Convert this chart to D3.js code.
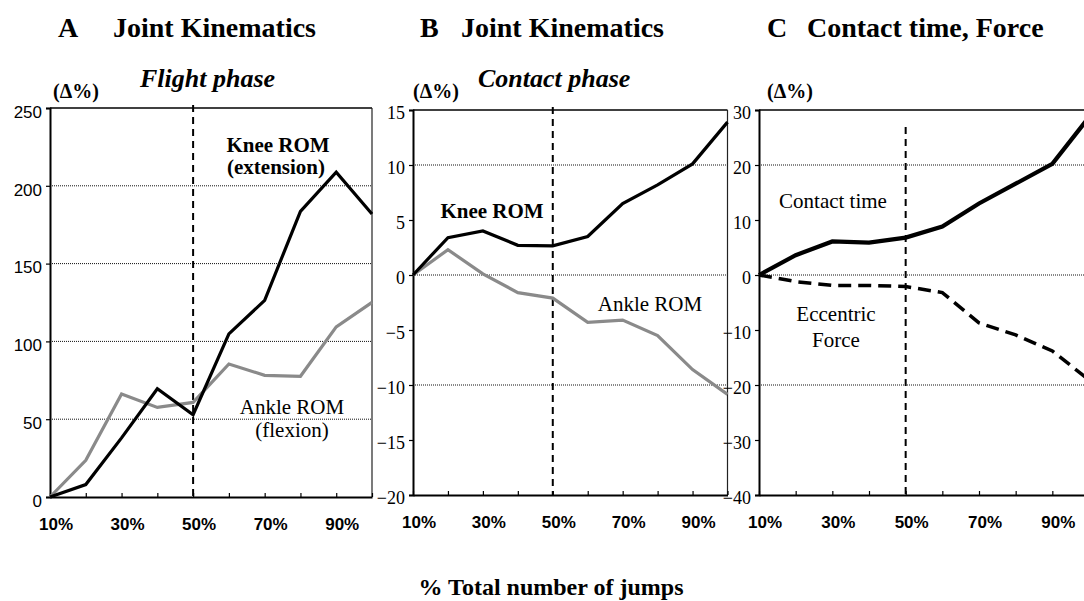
<!DOCTYPE html>
<html>
<head>
<meta charset="utf-8">
<script src="https://cdn.jsdelivr.net/npm/d3@7/dist/d3.min.js"></script>
<style>
  html, body { margin: 0; padding: 0; background: #fff; }
  svg { display: block; }
</style>
</head>
<body>
<svg id="chart" width="1084" height="601"></svg>
<script>
// Share of the total number of jumps (x categories)
const categories = ["10%", "20%", "30%", "40%", "50%", "60%", "70%", "80%", "90%", "100%"];
const xTickLabels = ["10%", "30%", "50%", "70%", "90%"];

// A: flight phase joint kinematics (Δ%)
const flightKnee  = [0, 8, 38, 69.6, 52.9, 104.8, 126.4, 183.6, 208.7, 181.9];
const flightAnkle = [0, 23.6, 66.2, 57.6, 60.8, 85.5, 78.2, 77.6, 109.3, 125.1];
const flightTicks = [0, 50, 100, 150, 200, 250];
const flightGrid  = [50, 100, 150, 200];

// B: contact phase joint kinematics (Δ%)
const contactKnee  = [0, 3.4, 4.0, 2.7, 2.65, 3.5, 6.5, 8.2, 10.1, 13.9];
const contactAnkle = [0, 2.3, 0.1, -1.6, -2.1, -4.3, -4.1, -5.5, -8.6, -10.85];
const contactTicks = [-20, -15, -10, -5, 0, 5, 10, 15];
const contactGrid  = [-10, 0, 10];

// C: contact time and eccentric force (Δ%)
const contactTime    = [0, 3.6, 6.1, 5.9, 6.8, 8.8, 13.0, 16.6, 20.2, 28.7];
const eccentricForce = [0, -1.2, -1.9, -1.9, -2.1, -3.2, -8.7, -10.9, -13.8, -19.1];
const forceTicks = [-40, -30, -20, -10, 0, 10, 20, 30];
const forceGrid  = [-20, 0, 20];

const SERIF = "'Liberation Serif', 'Times New Roman', serif";
const SANS  = "'Liberation Sans', Arial, sans-serif";

const svg = d3.select("#chart");

function panel(cfg) {
  const g = svg.append("g");
  const x = d3.scalePoint().domain(categories).range([cfg.left, cfg.right]).padding(0);
  const y = d3.scaleLinear().domain(cfg.domain).range([cfg.bottom, cfg.top]);

  // dotted reference lines
  g.selectAll("line.grid").data(cfg.grid).join("line")
    .attr("class", "grid")
    .attr("x1", cfg.left).attr("x2", cfg.right)
    .attr("y1", d => y(d)).attr("y2", d => y(d))
    .attr("stroke", "#111").attr("stroke-width", 1)
    .attr("stroke-dasharray", "1,1");

  // frame: top and right border
  g.append("line")
    .attr("x1", cfg.left).attr("x2", cfg.right)
    .attr("y1", cfg.top).attr("y2", cfg.top)
    .attr("stroke", "#000").attr("stroke-width", 1.5);
  g.append("line")
    .attr("x1", cfg.right).attr("x2", cfg.right)
    .attr("y1", cfg.top).attr("y2", cfg.bottom)
    .attr("stroke", "#222").attr("stroke-width", 1.2);

  // y axis
  const yAxis = g.append("g")
    .attr("transform", `translate(${cfg.left},0)`)
    .call(d3.axisLeft(y).tickValues(cfg.ticks).tickSize(4).tickPadding(4).tickFormat(d3.format("d")));
  yAxis.select(".domain").attr("stroke-width", 2);
  yAxis.selectAll(".tick line").attr("stroke-width", 1.2);
  yAxis.selectAll(".tick text")
    .attr("font-family", cfg.tickFont)
    .attr("font-size", cfg.tickSize)
    .attr("fill", "#000")
    .attr("dy", cfg.tickDy);

  // x axis with small inward ticks
  const xAxis = g.append("g")
    .attr("transform", `translate(0,${cfg.bottom})`)
    .call(d3.axisBottom(x).tickSizeInner(-4).tickSizeOuter(0).tickFormat(""));
  xAxis.select(".domain").attr("stroke-width", 2);
  xAxis.selectAll(".tick line").attr("stroke-width", 1.2);

  g.selectAll("text.xlab").data(xTickLabels).join("text")
    .attr("class", "xlab")
    .attr("x", d => x(d) + 6)
    .attr("y", cfg.bottom + 33)
    .attr("text-anchor", "middle")
    .attr("font-family", SANS)
    .attr("font-weight", "bold")
    .attr("font-size", 17)
    .text(d => d);

  // boundary at half of the jumps
  g.append("line")
    .attr("x1", x("50%")).attr("x2", x("50%"))
    .attr("y1", cfg.top + cfg.dashTop).attr("y2", cfg.bottom)
    .attr("stroke", "#000").attr("stroke-width", 2)
    .attr("stroke-dasharray", "7,5");

  const line = d3.line().x((d, i) => x(categories[i])).y(d => y(d));
  cfg.series.forEach(s => {
    g.append("path")
      .datum(s.values)
      .attr("d", line)
      .attr("fill", "none")
      .attr("stroke", s.color)
      .attr("stroke-width", s.width)
      .attr("stroke-dasharray", s.dash || null);
  });

  cfg.notes.forEach(n => {
    g.append("text")
      .attr("x", n.x).attr("y", n.y)
      .attr("text-anchor", "middle")
      .attr("font-family", SERIF)
      .attr("font-weight", n.bold ? "bold" : "normal")
      .attr("font-size", 21)
      .text(n.text);
  });
}

panel({
  left: 50, right: 372, top: 108, bottom: 497,
  domain: [0, 250], ticks: flightTicks, grid: flightGrid,
  tickFont: SANS, tickSize: 17, tickDy: "0.55em", dashTop: -3,
  series: [
    { values: flightAnkle, color: "#8a8a8a", width: 3.2 },
    { values: flightKnee, color: "#000", width: 3.2 }
  ],
  notes: [
    { text: "Knee ROM", x: 278, y: 152, bold: true },
    { text: "(extension)", x: 276, y: 174, bold: true },
    { text: "Ankle ROM", x: 292, y: 414 },
    { text: "(flexion)", x: 292, y: 437 }
  ]
});

panel({
  left: 413, right: 727.5, top: 110, bottom: 495,
  domain: [-20, 15], ticks: contactTicks, grid: contactGrid,
  tickFont: SERIF, tickSize: 18, tickDy: "0.45em", dashTop: -3,
  series: [
    { values: contactAnkle, color: "#8a8a8a", width: 3.2 },
    { values: contactKnee, color: "#000", width: 3.2 }
  ],
  notes: [
    { text: "Knee ROM", x: 492, y: 218, bold: true },
    { text: "Ankle ROM", x: 650, y: 311 }
  ]
});

panel({
  left: 759, right: 1089, top: 110, bottom: 495,
  domain: [-40, 30], ticks: forceTicks, grid: forceGrid,
  tickFont: SERIF, tickSize: 18, tickDy: "0.45em", dashTop: 17,
  series: [
    { values: eccentricForce, color: "#000", width: 3.5, dash: "13,7" },
    { values: contactTime, color: "#000", width: 4.2 }
  ],
  notes: [
    { text: "Contact time", x: 833, y: 208 },
    { text: "Eccentric", x: 836, y: 321 },
    { text: "Force", x: 836, y: 347 }
  ]
});

// panel headings
const headings = [
  { text: "A", x: 58 }, { text: "Joint Kinematics", x: 113 },
  { text: "B", x: 420 }, { text: "Joint Kinematics", x: 461 },
  { text: "C", x: 767 }, { text: "Contact time, Force", x: 807 }
];
svg.selectAll("text.head").data(headings).join("text")
  .attr("class", "head")
  .attr("x", d => d.x).attr("y", 37)
  .attr("font-family", SERIF).attr("font-weight", "bold").attr("font-size", 28)
  .text(d => d.text);

const phases = [{ text: "Flight phase", x: 140 }, { text: "Contact phase", x: 478 }];
svg.selectAll("text.phase").data(phases).join("text")
  .attr("class", "phase")
  .attr("x", d => d.x).attr("y", 87)
  .attr("font-family", SERIF).attr("font-weight", "bold").attr("font-style", "italic")
  .attr("font-size", 26)
  .text(d => d.text);

const unitX = [53, 413, 767];
svg.selectAll("text.unit").data(unitX).join("text")
  .attr("class", "unit")
  .attr("x", d => d).attr("y", 98)
  .attr("font-family", SERIF).attr("font-weight", "bold").attr("font-size", 20)
  .text("(Δ%)");

svg.append("text")
  .attr("x", 551).attr("y", 595)
  .attr("text-anchor", "middle")
  .attr("font-family", SERIF).attr("font-weight", "bold").attr("font-size", 24)
  .text("% Total number of jumps");
</script>
</body>
</html>
